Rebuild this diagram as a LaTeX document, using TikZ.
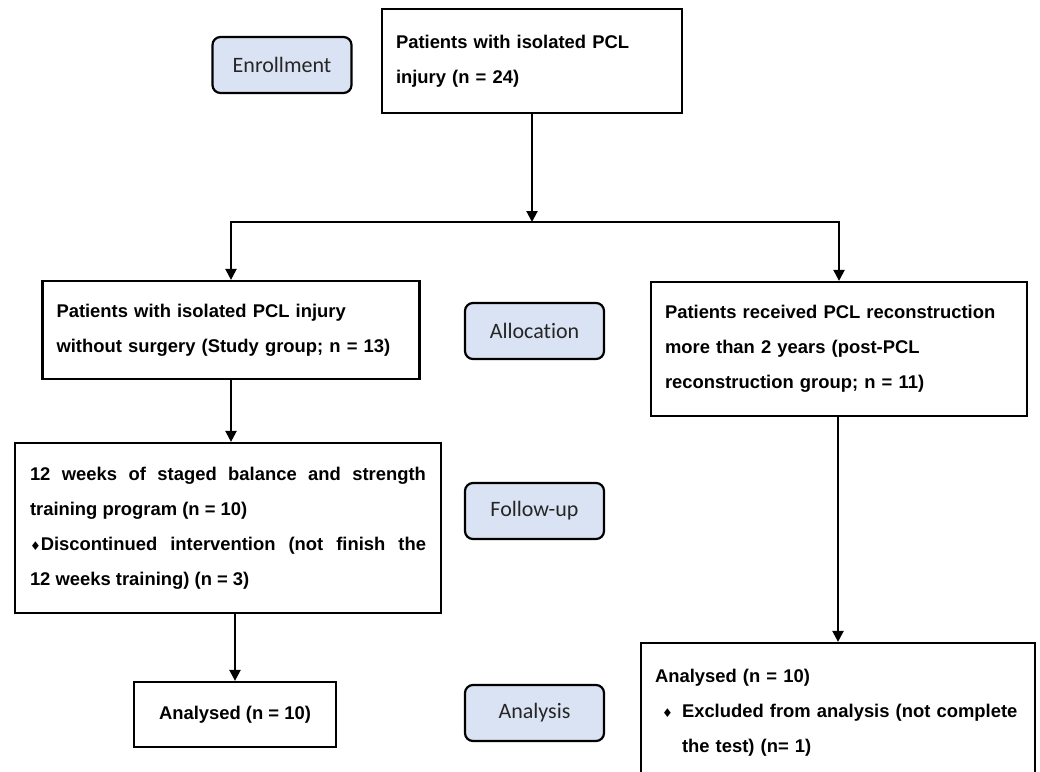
\documentclass[tikz,border=0pt]{standalone}
\usepackage{fontspec}
\setmainfont{Liberation Sans}
\newfontfamily\calfont[Ligatures=NoCommon]{Carlito}
\newfontfamily\dvfont{DejaVu Sans}
\usetikzlibrary{arrows.meta}
\definecolor{lblfill}{HTML}{DAE3F3}
\definecolor{lbltext}{HTML}{262626}
\newcommand{\dmd}{{\dvfont\fontsize{12}{12}\selectfont ♦}}
\tikzset{
  box/.style={draw=black, line width=2.2pt, fill=white, inner xsep=14pt, inner ysep=0pt,
    font=\fontsize{18.4}{35}\selectfont\bfseries, align=left},
  lbl/.style={draw=black, line width=2.2pt, fill=lblfill, rounded corners=8pt,
    minimum width=139pt, minimum height=56pt, inner sep=0pt,
    font=\calfont\fontsize{22}{26}\selectfont, text=lbltext},
  arr/.style={line width=2.2pt, -{Triangle[length=11pt,width=11pt]}},
  ln/.style={line width=2.2pt}
}
\begin{document}
\begin{tikzpicture}[x=1pt,y=-1pt]
\useasboundingbox (0,0) rectangle (1040,771);
\clip (0,0) rectangle (1040,771);
% labels
\node[lbl] (enr) at (282,65) {Enrollment};
\node[lbl] (alloc) at (534.5,331) {Allocation};
\node[lbl] (fol) at (534.5,511) {Follow-up};
\node[lbl] (ana) at (534.5,713) {Analysis};
% boxes
\node[box, minimum width=300pt, minimum height=104pt, text width=272pt] (top) at (532,61)
  {Patients with isolated PCL\\injury (n = 24)};
\node[box, minimum width=377pt, minimum height=98pt, text width=349pt] (b1l) at (231,330)
  {Patients with isolated PCL injury\\without surgery (Study group; n = 13)};
\node[box, minimum width=376pt, minimum height=134pt, text width=348pt] (b1r) at (839,349)
  {Patients received PCL reconstruction\\more than 2 years (post-PCL\\reconstruction group; n = 11)};
\node[box, minimum width=426pt, minimum height=170pt, text width=396pt, inner xsep=15pt, align=justify] (b2) at (228,528)
  {12 weeks of staged balance and strength\linebreak training program (n = 10)\par
   \dmd Discontinued intervention (not finish the\linebreak 12 weeks training) (n = 3)};
\node[box, minimum width=202pt, minimum height=65pt, align=center] (anl) at (235,714.5)
  {Analysed (n = 10)};
\node[box, minimum width=394pt, minimum height=136pt, text width=366pt] (anr) at (838,711)
  {\rule{0pt}{17pt}Analysed (n = 10)\\\hspace*{7pt}\makebox[20pt][l]{\dmd}Excluded from analysis (not complete\\\hspace*{27pt}the test) (n= 1)};
% connectors
\coordinate (split) at (532,222);
\draw[arr] (top.south) -- (split);
\draw[arr] (split) -| (b1l.north);
\draw[arr] (split) -| (b1r.north);
\draw[arr] (b1l.south) -- (b1l.south |- b2.north);
\draw[arr] (b2.south -| anl.north) -- (anl.north);
\draw[arr] (b1r.south -| anr.north) -- (anr.north);
\end{tikzpicture}
\end{document}
